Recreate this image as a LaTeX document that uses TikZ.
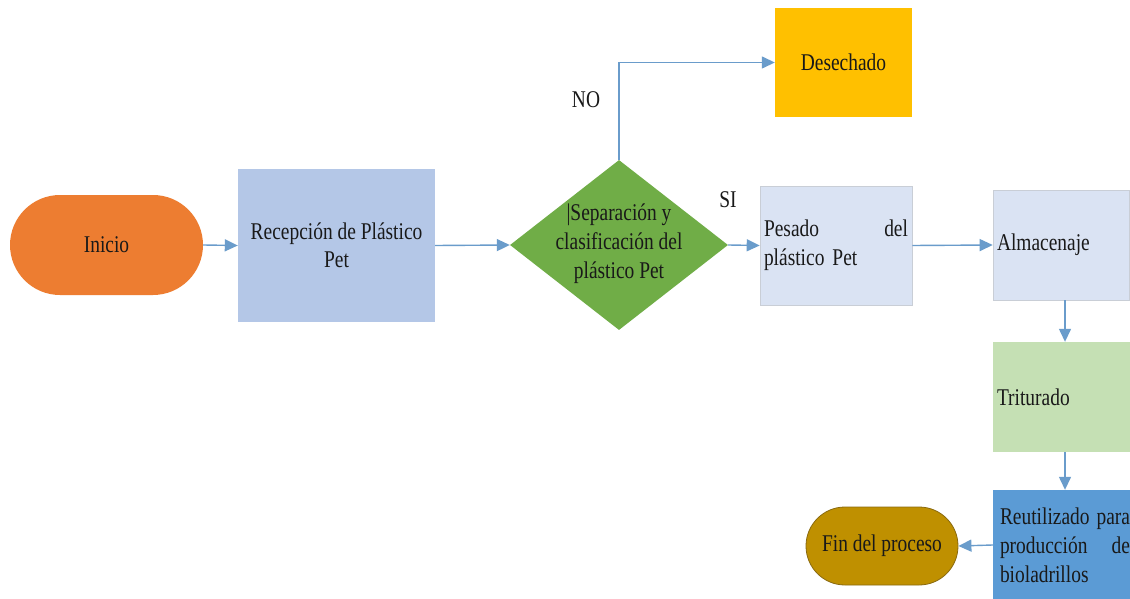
\documentclass[tikz,border=0pt]{standalone}
\usepackage{fontspec}
\setmainfont{Liberation Serif}[FakeStretch=0.81]
\usetikzlibrary{arrows.meta,shapes.geometric}
\definecolor{cOrange}{HTML}{ED7D31}
\definecolor{cBlueL}{HTML}{B4C7E7}
\definecolor{cGreen}{HTML}{70AD47}
\definecolor{cGold}{HTML}{FFC000}
\definecolor{cPale}{HTML}{DAE3F3}
\definecolor{cPaleEdge}{HTML}{C9CED6}
\definecolor{cGreenL}{HTML}{C5E0B4}
\definecolor{cBlue}{HTML}{5B9BD5}
\definecolor{cOchre}{HTML}{BF9000}
\definecolor{cOchreEdge}{HTML}{8A6A10}
\definecolor{cLink}{HTML}{6A9CCB}
\tikzset{
  base/.style={font=\fontsize{24}{29}\selectfont, text=black!90, inner sep=0pt},
  terminal/.style={base, rectangle, minimum height=#1, rounded corners=#1/2},
  box/.style={base, rectangle, align=center},
  leftbox/.style={base, rectangle, align=left, inner xsep=4pt},
  decision/.style={base, diamond, fill=cGreen},
  link/.style={draw=cLink, line width=1.4pt, -{Triangle[length=13pt,width=12pt]}},
  tag/.style={base}
}
% one justified line of a fixed width
\newcommand{\fullline}[1]{\leavevmode\hbox to\linewidth{#1}}
\begin{document}
\begin{tikzpicture}[x=1pt,y=-1pt]
\useasboundingbox (0,0) rectangle (1130,599);
\clip (0,0) rectangle (1130,599);
\fill[white] (0,0) rectangle (1130,599);

% start and first step
\node[terminal=100pt, minimum width=193pt, fill=cOrange] (ini) at (106.5,245) {Inicio};
\node[box, minimum width=197pt, minimum height=153pt, fill=cBlueL] (rec) at (336.5,245.5)
  {Recepción de Plástico\\[-1pt]Pet};

% decision
\node[decision, minimum width=218pt, minimum height=170pt] (dia) at (619,245) {};
\node[box] (diat) at (619,244) {|Separación y\\clasificación del\\plástico Pet};

% rejected branch
\node[box, minimum width=137pt, minimum height=109pt, fill=cGold] (des) at (843.5,62.5) {Desechado};

% accepted branch
\node[leftbox, text width=144pt, minimum height=119pt, fill=cPale, draw=cPaleEdge, line width=0.6pt] (pes) at (836,245.5)
  {Pesado\hfill del\\plástico Pet};
\node[leftbox, text width=128pt, minimum width=136pt, minimum height=110pt, fill=cPale, draw=cPaleEdge, line width=0.6pt] (alm) at (1061,245)
  {Almacenaje};
\node[leftbox, text width=136pt, minimum width=144pt, minimum height=110pt, fill=cGreenL] (tri) at (1065,397)
  {Triturado};
\node[leftbox, text width=130pt, minimum width=144pt, minimum height=110pt, fill=cBlue] (reu) at (1065,545)
  {\fullline{Reutilizado\hfill para}\\\fullline{producción\hfill de}\\\fullline{bioladrillos\hfill}};
\node[terminal=78pt, minimum width=152pt, fill=cOchre, draw=cOchreEdge, line width=0.8pt] (fin) at (882,546) {Fin del proceso};

% connectors
\draw[link] (ini.east) -- (rec.west);
\draw[link] (rec.east) -- (dia.west);
\draw[link] (dia.north) |- (des.west);
\draw[link] (dia.east) -- (pes.west);
\draw[link] (pes.east) -- (alm.west);
\draw[link] (tri.north |- alm.south) -- (tri.north);
\draw[link] (tri.south) -- (reu.north);
\draw[link] (reu.west) -- (fin.east);

% branch labels
\node[tag] (lno) at (586,100) {NO};
\node[tag] (lsi) at (728,200) {SI};
\end{tikzpicture}
\end{document}
